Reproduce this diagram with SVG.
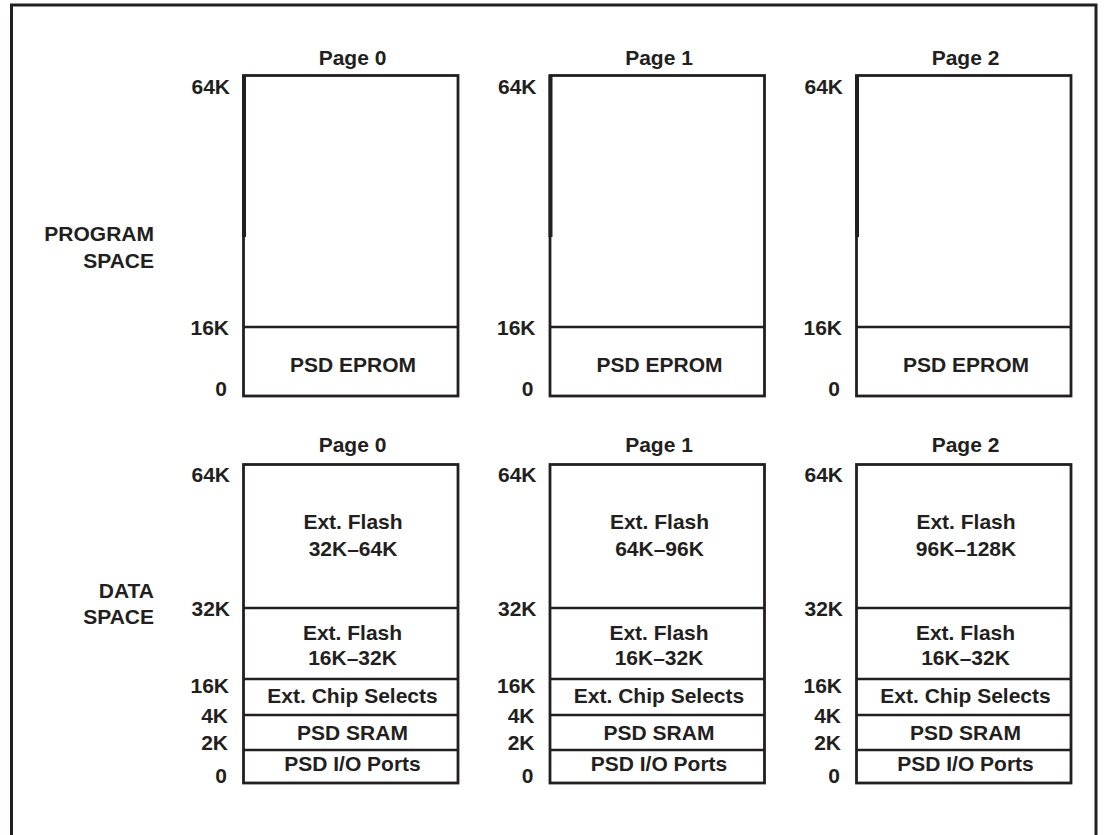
<svg xmlns="http://www.w3.org/2000/svg" width="1104" height="835" viewBox="0 0 1104 835">
<style>
.t{font-family:"Liberation Sans",Arial,Helvetica,sans-serif;font-weight:bold;font-size:21px;fill:#231f20}
.m{text-anchor:middle}
.e{text-anchor:end}
.box{fill:#fff;stroke:#231f20;stroke-width:2.8}
.div{stroke:#231f20;stroke-width:2.5;fill:none}
.thk{stroke:#231f20;stroke-width:4;fill:none}
</style>
<rect id="frame" x="11.5" y="5" width="1084.5" height="900" fill="#fff" stroke="#231f20" stroke-width="3"/>
<g id="section-labels">
<text class="t e" x="154" y="241">PROGRAM</text>
<text class="t e" x="154" y="268">SPACE</text>
<text class="t e" x="154" y="598">DATA</text>
<text class="t e" x="154" y="624">SPACE</text>
</g>
<defs>
<g id="prog">
<text class="t m" x="352.5" y="65">Page 0</text>
<rect class="box" x="243.5" y="75.5" width="214.5" height="320.5"/>
<line class="thk" x1="244" y1="75" x2="244" y2="237"/>
<line class="div" x1="243.5" y1="327" x2="458" y2="327"/>
<text class="t e" x="230" y="94">64K</text>
<text class="t e" x="229" y="335">16K</text>
<text class="t e" x="227" y="396">0</text>
<text class="t m" x="353" y="372">PSD EPROM</text>
</g>
<g id="data">
<rect class="box" x="243.5" y="464.5" width="214.5" height="318.5"/>
<line class="div" x1="243.5" y1="608" x2="458" y2="608"/>
<line class="div" x1="243.5" y1="679" x2="458" y2="679"/>
<line class="div" x1="243.5" y1="715" x2="458" y2="715"/>
<line class="div" x1="243.5" y1="750" x2="458" y2="750"/>
<text class="t e" x="230" y="482">64K</text>
<text class="t e" x="230" y="616">32K</text>
<text class="t e" x="229" y="693">16K</text>
<text class="t e" x="228" y="723">4K</text>
<text class="t e" x="228" y="750">2K</text>
<text class="t e" x="227" y="783">0</text>
<text class="t m" x="352.5" y="640">Ext. Flash</text>
<text class="t m" x="352.5" y="665">16K–32K</text>
<text class="t m" x="352.5" y="703">Ext. Chip Selects</text>
<text class="t m" x="352.5" y="740">PSD SRAM</text>
<text class="t m" x="352.5" y="771">PSD I/O Ports</text>
</g>
</defs>
<g id="program-page0">
<use href="#prog"/>
</g>
<g id="program-page1" transform="translate(306.5,0)">
<text class="t m" x="352.5" y="65">Page 1</text>
<rect class="box" x="243.5" y="75.5" width="214.5" height="320.5"/>
<line class="thk" x1="244" y1="75" x2="244" y2="237"/>
<line class="div" x1="243.5" y1="327" x2="458" y2="327"/>
<text class="t e" x="230" y="94">64K</text>
<text class="t e" x="229" y="335">16K</text>
<text class="t e" x="227" y="396">0</text>
<text class="t m" x="353" y="372">PSD EPROM</text>
</g>
<g id="program-page2" transform="translate(613,0)">
<text class="t m" x="352.5" y="65">Page 2</text>
<rect class="box" x="243.5" y="75.5" width="214.5" height="320.5"/>
<line class="thk" x1="244" y1="75" x2="244" y2="237"/>
<line class="div" x1="243.5" y1="327" x2="458" y2="327"/>
<text class="t e" x="230" y="94">64K</text>
<text class="t e" x="229" y="335">16K</text>
<text class="t e" x="227" y="396">0</text>
<text class="t m" x="353" y="372">PSD EPROM</text>
</g>
<g id="data-page0">
<text class="t m" x="352.5" y="452">Page 0</text>
<use href="#data"/>
<text class="t m" x="353" y="529">Ext. Flash</text>
<text class="t m" x="353" y="556">32K–64K</text>
</g>
<g id="data-page1" transform="translate(306.5,0)">
<text class="t m" x="352.5" y="452">Page 1</text>
<use href="#data"/>
<text class="t m" x="353" y="529">Ext. Flash</text>
<text class="t m" x="353" y="556">64K–96K</text>
</g>
<g id="data-page2" transform="translate(613,0)">
<text class="t m" x="352.5" y="452">Page 2</text>
<use href="#data"/>
<text class="t m" x="353" y="529">Ext. Flash</text>
<text class="t m" x="353" y="556">96K–128K</text>
</g>
<g id="connectors"/>
</svg>
